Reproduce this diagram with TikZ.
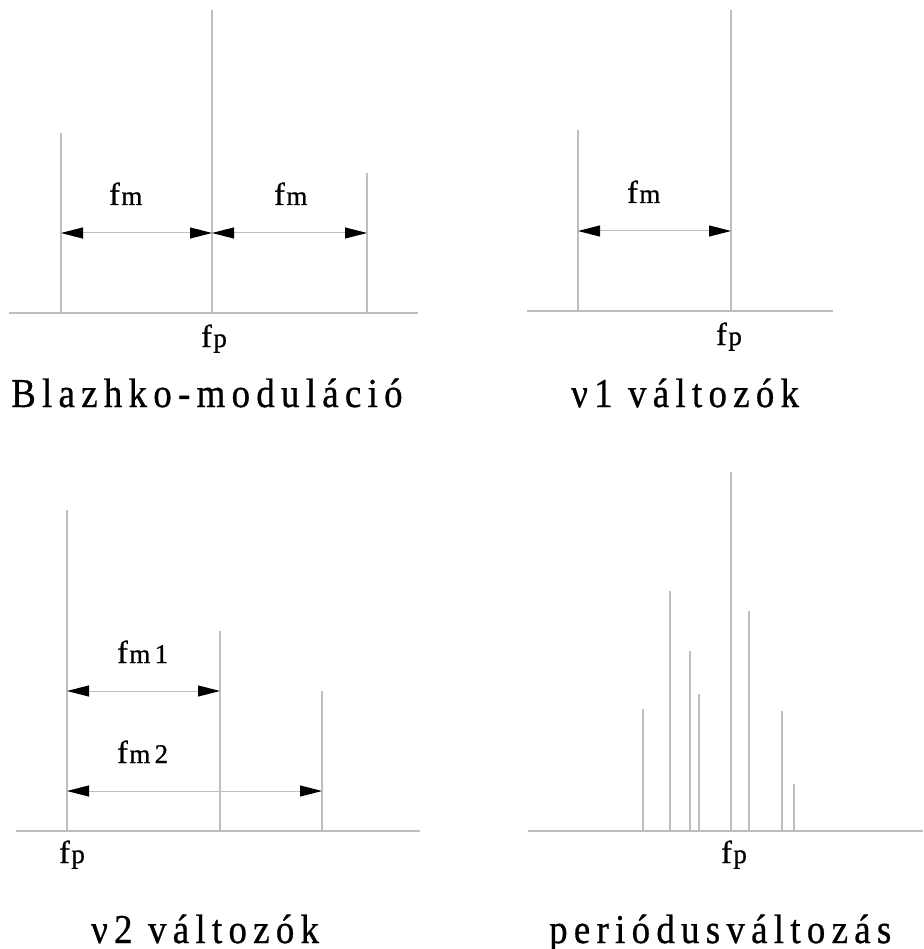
\documentclass[tikz,border=0pt]{standalone}
\usepackage{fontspec}
\setmainfont{Liberation Serif}
\newfontfamily\titlefont[LetterSpace=17,FakeBold=0.8]{Liberation Serif}
\newfontfamily\subfont[LetterSpace=16,FakeBold=0.8]{Liberation Serif}
\newfontfamily\labfont[FakeBold=0.8]{Liberation Serif}
\usetikzlibrary{arrows.meta}
\definecolor{lg}{RGB}{190,190,190}
\newcommand\fsym[1]{{\labfont\fontsize{32}{32}\selectfont f}\kern1.5pt{\subfont\fontsize{27}{27}\selectfont #1}}
\newcommand\ttltext[1]{\scalebox{0.9}[1]{\titlefont\fontsize{41}{41}\selectfont #1}}
\begin{document}
\begin{tikzpicture}[x=1pt,y=-1pt,
  ln/.style={draw=lg, line width=1.4pt},
  dim/.style={draw=lg, line width=1pt,
    {Triangle[color=black,fill=black,length=22pt,width=11pt]}-{Triangle[color=black,fill=black,length=22pt,width=11pt]}},
  lbl/.style={inner sep=0pt, anchor=base west},
  ttl/.style={inner sep=0pt, anchor=base west}]
\useasboundingbox (0,0) rectangle (923,949);
% ---------------- panel 1 : Blazhko
\coordinate (a1) at (61,313);
\coordinate (a2) at (212,313);
\coordinate (a3) at (367,313);
\draw[ln] (9,313) -- (418,313);
\draw[ln] (a1) -- (61,133);
\draw[ln] (a2) -- (212,10);
\draw[ln] (a3) -- (367,173);
\coordinate (d1) at (61,233);
\coordinate (d2) at (212,233);
\coordinate (d3) at (367,233);
\draw[dim] (d1) -- (d2);
\draw[dim] (d2) -- (d3);
\node[lbl] (fm1a) at (109,205) {\fsym{m}};
\node[lbl] (fm1b) at (274,205) {\fsym{m}};
\node[lbl] (fp1) at (201,347) {\fsym{p}};
\node[ttl] (t1) at (11,407) {\ttltext{Blazhko-moduláció}};
% ---------------- panel 2 : nu1
\draw[ln] (527,311) -- (833,311);
\draw[ln] (578,311) -- (578,130);
\draw[ln] (731,311) -- (731,10);
\coordinate (e1) at (578,231);
\coordinate (e2) at (731,231);
\draw[dim] (e1) -- (e2);
\node[lbl] (fm2) at (627,203) {\fsym{m}};
\node[lbl] (fp2) at (716,345) {\fsym{p}};
\node[ttl] (t2) at (571,407) {\ttltext{ν1 változók}};
% ---------------- panel 3 : nu2
\draw[ln] (16,831) -- (420,831);
\draw[ln] (67,831) -- (67,510);
\draw[ln] (220,831) -- (220,631);
\draw[ln] (322,831) -- (322,691);
\coordinate (g1) at (67,691);
\coordinate (g2) at (220,691);
\coordinate (h1) at (67,791);
\coordinate (h2) at (322,791);
\draw[dim] (g1) -- (g2);
\draw[dim] (h1) -- (h2);
\node[lbl] (fm3a) at (117,663) {\fsym{m1}};
\node[lbl] (fm3b) at (117,763) {\fsym{m2}};
\node[lbl] (fp3) at (59,863) {\fsym{p}};
\node[ttl] (t3) at (91,943) {\ttltext{ν2 változók}};
% ---------------- panel 4 : period change
\draw[ln] (528,831) -- (923,831);
\foreach \x/\t in {643/709, 670/591, 690/651, 699/694, 731/472, 749/611, 782/711, 794/784}
  \draw[ln] (\x,831) -- (\x,\t);
\node[lbl] (fp4) at (721,863) {\fsym{p}};
\node[ttl] (t4) at (549,943) {\ttltext{periódusváltozás}};
\end{tikzpicture}
\end{document}
